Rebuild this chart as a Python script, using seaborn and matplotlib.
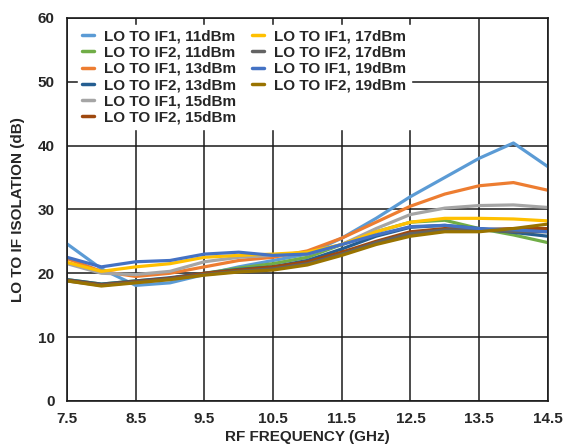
import numpy as np
import pandas as pd
import seaborn as sns
import matplotlib.pyplot as plt
from matplotlib.lines import Line2D

# Frecuencias RF (GHz)
freq = [7.5, 8.0, 8.5, 9.0, 9.5, 10.0, 10.5, 11.0, 11.5, 12.0, 12.5, 13.0, 13.5, 14.0, 14.5]

# Aislamiento LO a IF (dB)
if1_11 = [24.6, 20.7, 18.1, 18.5, 19.8, 21.0, 22.0, 23.0, 25.5, 28.6, 32.0, 35.0, 38.0, 40.4, 36.7]
if2_11 = [19.0, 18.3, 18.8, 19.2, 20.0, 20.8, 21.5, 22.5, 24.5, 26.5, 28.0, 28.3, 27.0, 26.0, 24.8]
if1_13 = [22.3, 20.3, 19.5, 20.0, 21.0, 22.0, 22.5, 23.5, 25.5, 28.0, 30.5, 32.4, 33.7, 34.2, 33.0]
if2_13 = [19.0, 18.3, 18.8, 19.3, 20.0, 20.6, 21.0, 22.0, 23.8, 25.8, 27.2, 27.5, 27.0, 26.4, 25.8]
if1_15 = [21.5, 20.0, 19.8, 20.3, 21.8, 22.5, 22.8, 23.0, 24.5, 27.0, 29.2, 30.2, 30.6, 30.7, 30.3]
if2_15 = [18.9, 18.2, 18.7, 19.2, 20.0, 20.5, 21.0, 21.8, 23.3, 25.0, 26.5, 27.0, 26.8, 27.0, 27.0]
if1_17 = [21.7, 20.3, 21.0, 21.5, 22.5, 22.8, 23.0, 23.3, 24.5, 26.5, 28.0, 28.6, 28.6, 28.5, 28.2]
if2_17 = [18.8, 18.1, 18.6, 19.1, 19.8, 20.3, 20.7, 21.5, 23.0, 24.8, 26.2, 26.8, 26.8, 26.5, 26.5]
if1_19 = [22.5, 21.0, 21.8, 22.0, 23.0, 23.3, 22.8, 23.0, 24.5, 26.0, 27.3, 27.5, 27.0, 26.8, 26.5]
if2_19 = [18.8, 18.0, 18.5, 19.0, 19.7, 20.2, 20.5, 21.3, 22.8, 24.5, 25.8, 26.5, 26.5, 27.0, 27.7]

etiquetas = ["LO TO IF1, 11dBm", "LO TO IF2, 11dBm", "LO TO IF1, 13dBm", "LO TO IF2, 13dBm",
             "LO TO IF1, 15dBm", "LO TO IF2, 15dBm", "LO TO IF1, 17dBm", "LO TO IF2, 17dBm",
             "LO TO IF1, 19dBm", "LO TO IF2, 19dBm"]
series = [if1_11, if2_11, if1_13, if2_13, if1_15, if2_15, if1_17, if2_17, if1_19, if2_19]
colores = ["#5B9BD5", "#70AD47", "#ED7D31", "#255E91", "#A5A5A5",
           "#9E480E", "#FFC000", "#636363", "#4472C4", "#997300"]

# DataFrame en formato largo
df = pd.DataFrame({
    "freq": freq * len(series),
    "iso": np.concatenate(series),
    "serie": np.repeat(etiquetas, len(freq)),
})

sns.set_style("white")
plt.rcParams['font.family'] = ['Liberation Sans', 'DejaVu Sans']
plt.rcParams['font.weight'] = 'bold'

fig = plt.figure(figsize=(5.73, 4.46), dpi=100)
ax = fig.add_axes([0.117, 0.101, 0.839, 0.859])

sns.lineplot(data=df, x="freq", y="iso", hue="serie", hue_order=etiquetas,
             palette=dict(zip(etiquetas, colores)), linewidth=2.3, ax=ax, legend=False)

ax.set_xlim(7.5, 14.5)
ax.set_ylim(0, 60)
ax.set_xticks(np.arange(7.5, 14.6, 1.0))
ax.set_xticklabels(["7.5", "8.5", "9.5", "10.5", "11.5", "12.5", "13.5", "14.5"])
ax.set_yticks(range(0, 61, 10))
ax.grid(True, color="#1a1a1a", linewidth=1.1)
ax.set_axisbelow(True)
for s in ax.spines.values():
    s.set_color("#1a1a1a")
    s.set_linewidth(1.2)
ax.tick_params(labelsize=11, length=0)
ax.tick_params(axis="x", pad=8)
ax.tick_params(axis="y", pad=9)
for t in ax.get_xticklabels() + ax.get_yticklabels():
    t.set_fontweight("bold")
ax.set_xlabel("RF FREQUENCY (GHz)", fontsize=11, fontweight="bold")
ax.set_ylabel("LO TO IF ISOLATION (dB)", fontsize=11, fontweight="bold")
ax.xaxis.set_label_coords(0.5, -0.077)
ax.yaxis.set_label_coords(-0.087, 0.5)

# Leyenda: 6 en la primera columna, 4 en la segunda
handles = [Line2D([0], [0], color=c, linewidth=2.5) for c in colores]
blank = Line2D([0], [0], color="none")
h = handles + [blank, blank]
l = etiquetas + ["", ""]
leg = ax.legend(h, l, ncol=2, loc="upper left", bbox_to_anchor=(0.022, 0.982),
                borderaxespad=0, frameon=True, fancybox=False, edgecolor="white",
                framealpha=1, fontsize=11, handlelength=0.8, handletextpad=0.65,
                columnspacing=1.0, labelspacing=0.15, borderpad=0.3)
for t in leg.get_texts():
    t.set_fontweight("bold")

plt.savefig("out.png", dpi=100)
